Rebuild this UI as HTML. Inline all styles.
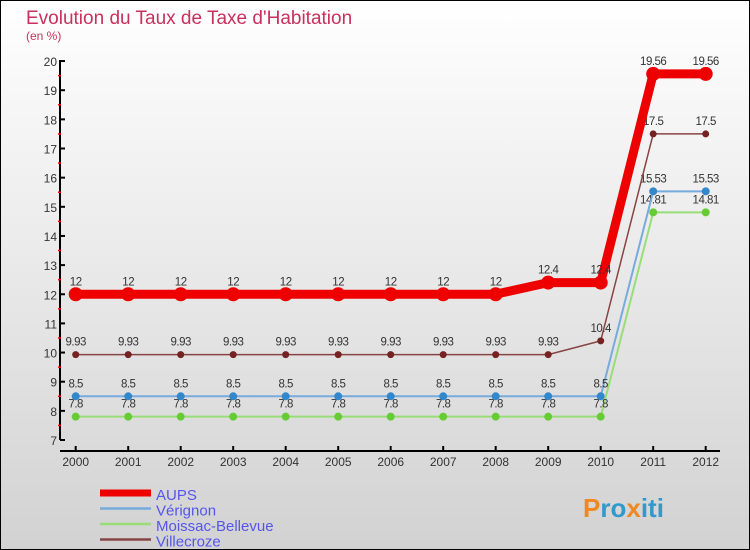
<!DOCTYPE html>
<html><head><meta charset="utf-8"><style>
body{margin:0}
#c{width:750px;height:550px;position:relative;box-sizing:border-box;border:1px solid #000;background:linear-gradient(#ffffff,#d2d2d2);font-family:"Liberation Sans",sans-serif;overflow:hidden}
</style></head><body>
<div id="c">
<svg id="s" width="750" height="550" style="position:absolute;left:-1px;top:-1px">
<text x="26" y="24" font-size="19" fill="#c8305e">Evolution du Taux de Taxe d'Habitation</text>
<text x="26" y="40" font-size="12" fill="#c8305e">(en %)</text>
</svg>
</div>
<script>
const years=[2000,2001,2002,2003,2004,2005,2006,2007,2008,2009,2010,2011,2012];
const aups=[12,12,12,12,12,12,12,12,12,12.4,12.4,19.56,19.56];
const verignon=[8.5,8.5,8.5,8.5,8.5,8.5,8.5,8.5,8.5,8.5,8.5,15.53,15.53];
const moissac=[7.8,7.8,7.8,7.8,7.8,7.8,7.8,7.8,7.8,7.8,7.8,14.81,14.81];
const villecroze=[9.93,9.93,9.93,9.93,9.93,9.93,9.93,9.93,9.93,9.93,10.4,17.5,17.5];
const yTicks=[7,8,9,10,11,12,13,14,15,16,17,18,19,20];
const names=["AUPS","Vérignon","Moissac-Bellevue","Villecroze"];
const NS="http://www.w3.org/2000/svg",s=document.getElementById('s');
const X=i=>75.7+i*52.5, Y=v=>440-(v-7)*29.15;
function el(t,a,p){const e=document.createElementNS(NS,t);for(const k in a)e.setAttribute(k,a[k]);(p||s).appendChild(e);return e;}
// axes
let ax=el('line',{x1:60,y1:60,x2:60,y2:440,stroke:'#000','stroke-width':2});


let xa=el('line',{x1:60,y1:451,x2:720,y2:451,stroke:'#000','stroke-width':2});


yTicks.forEach(v=>{el('line',{x1:60,y1:Y(v),x2:65,y2:Y(v),stroke:'#000','stroke-width':2});
 if(v<20)el('line',{x1:58,y1:Y(v+0.5),x2:61,y2:Y(v+0.5),stroke:'#f00','stroke-width':1.5});
 const t=el('text',{x:57,y:Y(v)+5,'font-size':12,'text-anchor':'end',fill:'#333'});t.textContent=v;
 
 });
years.forEach((y,i)=>{el('line',{x1:X(i),y1:446,x2:X(i),y2:451,stroke:'#000','stroke-width':2});
 const t=el('text',{x:X(i),y:466,'font-size':12,'text-anchor':'middle',fill:'#333'});t.textContent=y;
 
 });
const series=[
 {d:moissac,c:'#99dd77',dot:'#66cc33',w:2,r:4,name:'series-moissac'},
 {d:verignon,c:'#77aadd',dot:'#3388cc',w:2,r:4,name:'series-verignon'},
 {d:villecroze,c:'#884444',dot:'#772222',w:1.5,r:3.5,name:'series-villecroze'},
 {d:aups,c:'#ee0000',dot:'#ee0000',w:9,r:7,name:'series-aups'}];
series.forEach(o=>{
 const g=el('g',{});
 
 
 el('polyline',{points:o.d.map((v,i)=>X(i)+','+Y(v)).join(' '),fill:'none',stroke:o.c,'stroke-width':o.w,'stroke-linejoin':'round'},g);
 o.d.forEach((v,i)=>{const c=el('circle',{cx:X(i),cy:Y(v),r:o.r,fill:o.dot},g);
  
  
  const t=el('text',{x:X(i),y:Y(v)-9,'font-size':11.5,'text-anchor':'middle',fill:'#333','letter-spacing':'-0.5'},g);t.textContent=v;
  
  });
});
// legend
const lc=['#ee0000','#77aadd','#99dd77','#884444'],lw=[7,2.5,2.5,2.5];
names.forEach((n,i)=>{const y=493+i*15.5;
 const g=el('g',{});
 
 
 el('line',{x1:100,y1:y,x2:151,y2:y,stroke:lc[i],'stroke-width':lw[i]},g);
 const t=el('text',{x:156,y:y+7,'font-size':15,fill:'#5555ee'},g);t.textContent=n;});
const p=el('text',{x:583,y:517,'font-size':26,'font-weight':'bold',fill:'#3399cc'});
p.innerHTML='<tspan fill="#ee8822">P</tspan>ro<tspan fill="#ee8822">x</tspan>iti';


</script>
</body></html>
